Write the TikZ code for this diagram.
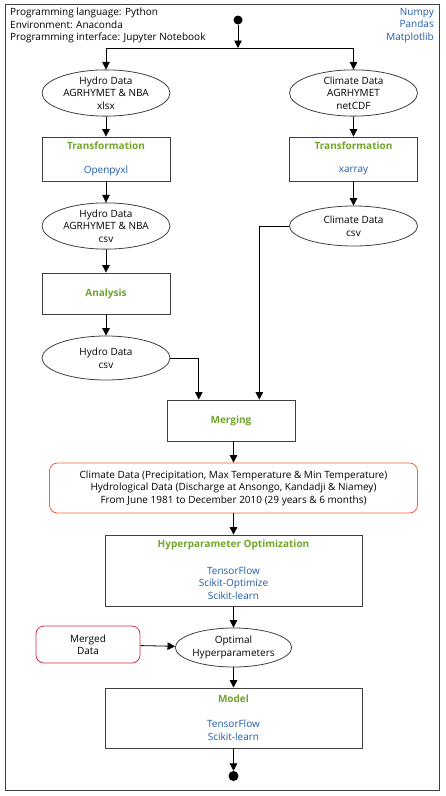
\documentclass[tikz,border=0pt]{standalone}
\usepackage{fontspec}
\setmainfont{Open Sans}
\usetikzlibrary{shapes.geometric,arrows.meta,calc}
\definecolor{framegray}{HTML}{404040}
\definecolor{titlegreen}{HTML}{6FA528}
\definecolor{libblue}{HTML}{1F5BA8}
\definecolor{dataorange}{HTML}{F0603C}
\definecolor{mergedred}{HTML}{D0304A}
\tikzset{
  base/.style={font=\fontsize{10}{12.5}\selectfont, text=black},
  lane/.style={draw=framegray, line width=0.8pt},
  procbox/.style={base, lane, rectangle, inner sep=0pt, align=center},
  dataell/.style={base, lane, ellipse, inner sep=0pt, align=center},
  ttl/.style={base, text=titlegreen, font=\fontsize{10}{12.5}\selectfont\bfseries, inner sep=0pt},
  lib/.style={base, text=libblue, inner sep=0pt, align=center},
  conn/.style={draw=black, line width=0.8pt, -{Triangle[length=7.5pt,width=7.5pt]}},
  plain/.style={draw=black, line width=0.8pt},
  dot/.style={circle, fill=black, inner sep=0pt},
}
\begin{document}
\begin{tikzpicture}[x=1pt,y=-1pt]
\useasboundingbox (0,0) rectangle (445,796);
\draw[draw=framegray, line width=1pt] (5,4) rectangle (439,790);

% header texts
\node[base, anchor=west, inner sep=0pt, align=left] (env) at (10,25.5)
  {Programming language: Python\\Environment: Anaconda\\Programming interface: Jupyter Notebook};
\node[lib, anchor=east, align=right] (pylibs) at (434,25.5) {Numpy\\Pandas\\Matplotlib};

% start
\node[dot, minimum size=9pt] (start) at (238,20) {};
\coordinate (split) at (238,48);

% left branch
\node[dataell, minimum width=128pt, minimum height=46pt] (hyd1) at (106,93) {Hydro Data\\AGRHYMET \& NBA\\xlsx};
\node[procbox, minimum width=128pt, minimum height=44pt] (trans1) at (106,159) {};
\node[ttl] (trans1t) at (106,146) {Transformation};
\node[lib] (trans1l) at (106,171) {Openpyxl};
\node[dataell, minimum width=128pt, minimum height=46pt] (hyd2) at (106,226) {Hydro Data\\AGRHYMET \& NBA\\csv};
\node[procbox, minimum width=128pt, minimum height=41pt] (anal) at (106,293.5) {};
\node[ttl] (analt) at (anal) {Analysis};
\node[dataell, minimum width=128pt, minimum height=44pt] (hyd3) at (106,358) {Hydro Data\\csv};

% right branch
\node[dataell, minimum width=128pt, minimum height=46pt] (clim1) at (353.5,93) {Climate Data\\AGRHYMET\\netCDF};
\node[procbox, minimum width=128pt, minimum height=44pt] (trans2) at (353.5,159) {};
\node[ttl] (trans2t) at (353.5,146) {Transformation};
\node[lib] (trans2l) at (353.5,171) {xarray};
\node[dataell, minimum width=128pt, minimum height=40pt] (clim2) at (353.5,226) {Climate Data\\csv};

% merging
\node[procbox, minimum width=128pt, minimum height=41pt] (merge) at (231,420.5) {};
\node[ttl] (merget) at (merge) {Merging};

% data description
\node[base, draw=dataorange, line width=0.8pt, rounded corners=8pt, minimum width=368pt, minimum height=50pt, inner sep=0pt, align=center] (data) at (233.5,488)
  {Climate Data (Precipitation, Max Temperature \& Min Temperature)\\Hydrological Data (Discharge at Ansongo, Kandadji \& Niamey)\\From June 1981 to December 2010 (29 years \& 6 months)};

% hyperparameter optimization
\node[procbox, minimum width=257pt, minimum height=71pt] (hpo) at (233.5,570.5) {};
\node[ttl] (hpot) at (233.5,545) {Hyperparameter Optimization};
\node[lib] (hpol) at (233.5,583) {TensorFlow\\Scikit-Optimize\\Scikit-learn};

% optimal hyperparameters
\node[dataell, minimum width=106pt, minimum height=39pt] (opt) at (233.5,647.5) {Optimal\\Hyperparameters};
\node[base, draw=mergedred, line width=0.8pt, rounded corners=8pt, minimum width=104pt, minimum height=37pt, inner sep=0pt, align=center] (merged) at (88,644.5) {Merged\\Data};

% model
\node[procbox, minimum width=257pt, minimum height=60pt] (model) at (233.5,718) {};
\node[ttl] (modelt) at (233.5,699) {Model};
\node[lib] (modell) at (233.5,730) {TensorFlow\\Scikit-learn};

\node[dot, minimum size=10pt] (end) at (233.5,776) {};

% connectors
\draw[conn] (start) -- (split);
\draw[plain] (hyd1 |- split) -- (clim1 |- split);
\draw[conn] (hyd1 |- split) -- (hyd1.north);
\draw[conn] (clim1 |- split) -- (clim1.north);
\draw[conn] (hyd1) -- (trans1);
\draw[conn] (trans1) -- (hyd2);
\draw[conn] (hyd2) -- (anal);
\draw[conn] (anal) -- (hyd3);
\draw[conn] (clim1) -- (trans2);
\draw[conn] (trans2) -- (clim2);
\draw[conn] (hyd3.east) -| ($(merge.north west)!0.25!(merge.north east)$);
\draw[conn] (clim2.west) -| ($(merge.north west)!0.72!(merge.north east)$);
\draw[conn] (data.north |- merge.south) -- (data.north);
\draw[conn] (data) -- (hpo);
\draw[conn] (hpo) -- (opt);
\draw[conn] (merged) -- (opt);
\draw[conn] (opt) -- (model);
\draw[conn] (model) -- (end);
\end{tikzpicture}
\end{document}
